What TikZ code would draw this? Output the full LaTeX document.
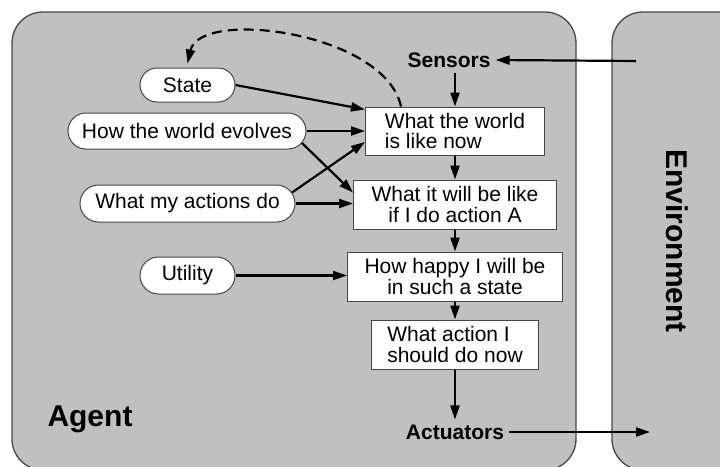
\documentclass[tikz,border=0pt]{standalone}
\usepackage{fontspec}
\setmainfont{Liberation Sans}
\usetikzlibrary{arrows.meta,shapes.misc,calc}
\definecolor{agentgray}{RGB}{192,192,192}
\definecolor{edgegray}{RGB}{70,70,70}
\tikzset{
  panel/.style={draw=edgegray, line width=1.3pt, fill=agentgray, rounded corners=31pt},
  oval/.style={rounded rectangle, draw=edgegray, fill=white, line width=1pt,
    font=\fontsize{21}{21}\selectfont, inner sep=0pt},
  stepbox/.style={rectangle, draw=edgegray, fill=white, line width=1pt,
    font=\fontsize{21}{20.5}\selectfont, inner sep=0pt},
  lbl/.style={font=\bfseries\fontsize{21}{22}\selectfont, inner sep=5pt},
  biglbl/.style={font=\bfseries\fontsize{30}{32}\selectfont, inner sep=0pt},
  arr/.style={line width=2.2pt, -{Triangle[length=14pt,width=9pt]}},
}
\begin{document}
\begin{tikzpicture}[x=1pt,y=-1pt]
\useasboundingbox (0,0) rectangle (720,466);
\clip (0,0) rectangle (720,466);
% panels
\draw[panel] (12,12) rectangle (576,470);
\draw[panel] (612,12) rectangle (780,470);
% labels
\node[biglbl] (agent) at (90,419) {Agent};
\node[biglbl, rotate=-90] (env) at (677,241) {Environment};
\node[lbl] (sens) at (449,60) {Sensors};
\node[lbl] (actu) at (455,432) {Actuators};
\coordinate (envin) at (636,61);
\coordinate (envout) at (650,432);
% ovals
\node[oval, minimum width=95pt, minimum height=34pt] (state) at (187.5,85) {State};
\node[oval, minimum width=238pt, minimum height=36pt] (hw) at (187,131) {How the world evolves};
\node[oval, minimum width=215pt, minimum height=37pt] (act) at (187.5,203.5) {What my actions do};
\node[oval, minimum width=95pt, minimum height=37pt] (util) at (187.5,275.5) {Utility};
% boxes
\node[stepbox, minimum width=179pt, minimum height=48pt, align=left] (b1) at (455,131) {What the world\\is like now};
\node[stepbox, minimum width=203pt, minimum height=49pt, align=center] (b2) at (455,204.5) {What it will be like\\if I do action A};
\node[stepbox, minimum width=215pt, minimum height=49pt, align=center] (b3) at (455,276.5) {How happy I will be\\in such a state};
\node[stepbox, minimum width=167pt, minimum height=49pt, align=left] (b4) at (455,344.5) {What action I\\should do now};
% arrows
\draw[arr] (envin) -- (sens.east);
\draw[arr] (sens.south -| b1.north) -- (b1.north);
\draw[arr] (b1.south) -- (b2.north);
\draw[arr] (b2.south) -- (b3.north);
\draw[arr] (b3.south) -- (b4.north);
\draw[arr] (b4.south) -- (b4.south |- actu.north);
\draw[arr] (actu.east) -- (envout);
\draw[arr] (state.east) -- ($(b1.north west)+(0,3)$);
\draw[arr] (hw.east) -- (hw.east -| b1.west);
\draw[arr] (hw.-6) -- ($(b2.west)+(0,-12)$);
\draw[arr] (act.6) -- ($(b1.west)+(0,11)$);
\draw[arr] (act.east) -- (act.east -| b2.west);
\draw[arr] (util.east) -- (util.east -| b3.west);
\draw[arr, dash pattern=on 10pt off 6pt] ($(b1.north west)+(36,0)$)
  .. controls (385,32) and (200,8) .. ($(state.north)+(0,-4)$);
\end{tikzpicture}
\end{document}
